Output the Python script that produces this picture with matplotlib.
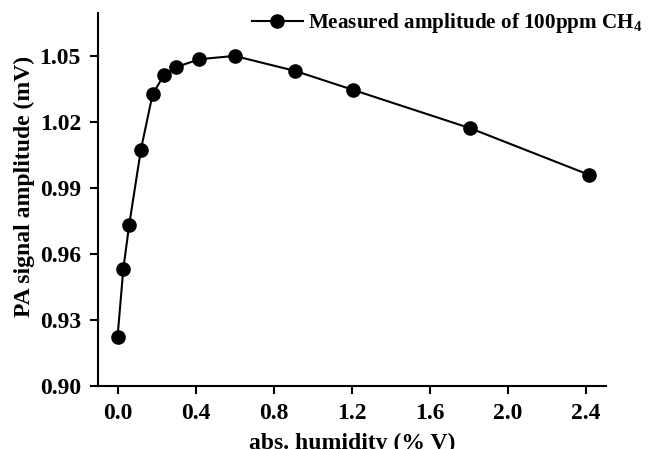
import matplotlib
matplotlib.use("Agg")
import matplotlib.pyplot as plt

humidity = [0.0, 0.03, 0.06, 0.12, 0.18, 0.24, 0.30, 0.42, 0.60, 0.91, 1.21, 1.81, 2.42]
amplitude = [0.9221, 0.9533, 0.9733, 1.0074, 1.0326, 1.0415, 1.0449, 1.0485, 1.0500,
             1.0432, 1.0345, 1.0171, 0.9959]
xticks = [0.0, 0.4, 0.8, 1.2, 1.6, 2.0, 2.4]
yticks = [0.90, 0.93, 0.96, 0.99, 1.02, 1.05]
legend_label = "Measured amplitude of 100ppm CH$_\\mathrm{4}$"
xlabel = "abs. humidity (% V)"
ylabel = "PA signal amplitude (mV)"

plt.rcParams['font.family'] = ['Liberation Serif', 'DejaVu Serif']
plt.rcParams['font.weight'] = 'bold'
plt.rcParams['mathtext.fontset'] = 'custom'
plt.rcParams['mathtext.rm'] = 'Liberation Serif:bold'
plt.rcParams['mathtext.bf'] = 'Liberation Serif:bold'

fig = plt.figure(figsize=(6.52, 4.49), dpi=100)
ax = fig.add_axes([98/652, 1-386/449, (606-98)/652, (386-13)/449])

ax.plot(humidity, amplitude, color='black', lw=1.5, marker='o', markersize=9.5,
        markeredgecolor='black', markerfacecolor='black', label=legend_label)

ax.set_xlim(-0.1, 2.505)
ax.set_ylim(0.90, 1.0695)
ax.set_xticks(xticks)
ax.set_xticklabels([f"{v:.1f}" for v in xticks])
ax.set_yticks(yticks)
ax.set_yticklabels([f"{v:.2f}" for v in yticks])

for s in ['top', 'right']:
    ax.spines[s].set_visible(False)
for s in ['left', 'bottom']:
    ax.spines[s].set_linewidth(1.5)
ax.tick_params(axis='both', direction='out', length=5.8, width=1.5, labelsize=17, pad=6.5)
for lab in ax.get_xticklabels() + ax.get_yticklabels():
    lab.set_fontweight('bold')

ax.set_xlabel(xlabel, fontsize=17, fontweight='bold')
ax.set_ylabel(ylabel, fontsize=17, fontweight='bold')
ax.xaxis.set_label_coords(0.5, -0.125)
ax.yaxis.set_label_coords(-0.124, 0.534)

leg = ax.legend(loc='center left', bbox_to_anchor=(252/652, 1-23/449),
                bbox_transform=fig.transFigure, frameon=False, borderpad=0,
                borderaxespad=0, handlelength=2.4, handletextpad=0.25,
                prop={'family': 'Liberation Serif', 'weight': 'bold', 'size': 15.2})

fig.savefig("out.png", dpi=100)
